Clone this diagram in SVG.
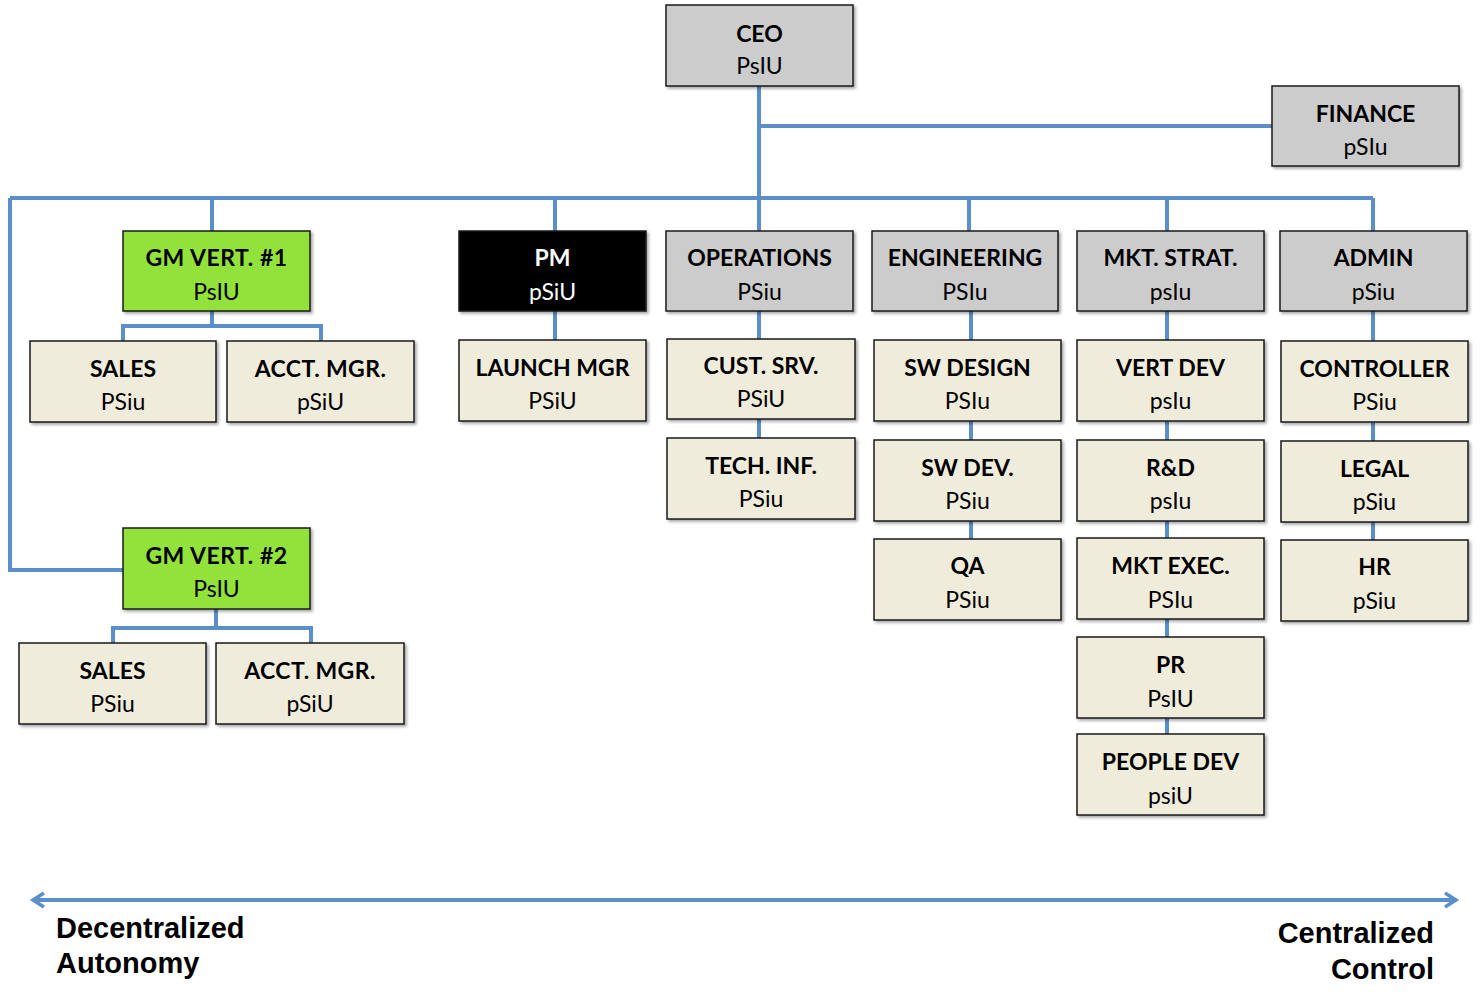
<svg xmlns="http://www.w3.org/2000/svg" width="1484" height="993" viewBox="0 0 1484 993">
<style>
.b{stroke:#1a1a1a;stroke-width:1.5;filter:url(#sh)}
.g{fill:#cccccc}.gr{fill:#92e23a}.k{fill:#000}.y{fill:#f0ecdb}
.t{font-family:Lato,"Open Sans",sans-serif;font-size:23px;font-weight:bold;text-anchor:middle;fill:#000}
.s{font-family:Lato,"Open Sans",sans-serif;font-size:23px;text-anchor:middle;fill:#000}
.w{fill:#fff}
.c{fill:none;stroke:#5b8fc9;stroke-width:4}
.a{font-family:"Liberation Sans",Arial,sans-serif;font-size:29px;font-weight:bold;fill:#000}
</style>
<defs>
<filter id="sh" x="-10%" y="-10%" width="130%" height="130%"><feDropShadow dx="2" dy="2" stdDeviation="1.5" flood-color="#000" flood-opacity="0.35"/></filter>
<marker id="ah" viewBox="0 0 20 20" refX="14" refY="10" markerWidth="20" markerHeight="20" markerUnits="userSpaceOnUse" orient="auto-start-reverse"><path d="M4 3 L15 10 L4 17" fill="none" stroke="#5b8fc9" stroke-width="3.5"/></marker>
</defs>
<rect width="1484" height="993" fill="#fff"/>
<g id="connectors">
<path class="c" d="M759 86V198M759 126H1272M10 198H1373M10 198V570H123"/>
<path class="c" d="M212 198V231M555 198V231M759 198V231M969 198V231M1167 198V231M1373 198V231"/>
<path class="c" d="M212 311V326M123 341V326H321V341"/>
<path class="c" d="M216 609V628M113 643V628H311V643"/>
<path class="c" d="M555 311V340M759 311V339M759 419V438"/>
<path class="c" d="M971 311V340M971 421V440M971 521V539"/>
<path class="c" d="M1167 311V340M1167 421V440M1167 521V538M1167 619V637M1167 718V734"/>
<path class="c" d="M1373 311V341M1373 422V441M1373 522V540"/>
<path class="c" d="M34 900H1455" stroke-width="3.5" marker-start="url(#ah)" marker-end="url(#ah)"/>
</g>
<g id="ceo"><rect class="b g" x="666" y="5" width="187" height="81"/><text class="t" x="759.5" y="42">CEO</text><text class="s" x="759.5" y="74">PsIU</text></g>
<g id="finance"><rect class="b g" x="1272" y="86" width="187" height="80"/><text class="t" x="1365.5" y="122">FINANCE</text><text class="s" x="1365.5" y="155">pSIu</text></g>
<g id="gm1"><rect class="b gr" x="123" y="231" width="187" height="80"/><text class="t" x="216.5" y="266" letter-spacing="0.5">GM VERT. #1</text><text class="s" x="216.5" y="300">PsIU</text></g>
<g id="pm"><rect class="b k" x="459" y="231" width="187" height="80"/><text class="t w" x="552.5" y="266">PM</text><text class="s w" x="552.5" y="300">pSiU</text></g>
<g id="operations"><rect class="b g" x="666" y="231" width="187" height="80"/><text class="t" x="759.5" y="266">OPERATIONS</text><text class="s" x="759.5" y="300">PSiu</text></g>
<g id="engineering"><rect class="b g" x="872" y="231" width="186" height="80"/><text class="t" x="965" y="266">ENGINEERING</text><text class="s" x="965" y="300">PSIu</text></g>
<g id="mktstrat"><rect class="b g" x="1077" y="231" width="187" height="80"/><text class="t" x="1170.5" y="266">MKT. STRAT.</text><text class="s" x="1170.5" y="300">psIu</text></g>
<g id="admin"><rect class="b g" x="1280" y="231" width="187" height="80"/><text class="t" x="1373.5" y="266">ADMIN</text><text class="s" x="1373.5" y="300">pSiu</text></g>
<g id="sales1"><rect class="b y" x="30" y="341" width="186" height="81"/><text class="t" x="123" y="377">SALES</text><text class="s" x="123" y="410">PSiu</text></g>
<g id="acct1"><rect class="b y" x="227" y="341" width="187" height="81"/><text class="t" x="320.5" y="377" letter-spacing="0.4">ACCT. MGR.</text><text class="s" x="320.5" y="410">pSiU</text></g>
<g id="launch"><rect class="b y" x="459" y="340" width="187" height="81"/><text class="t" x="552.5" y="376">LAUNCH MGR</text><text class="s" x="552.5" y="409">PSiU</text></g>
<g id="custsrv"><rect class="b y" x="667" y="339" width="188" height="80"/><text class="t" x="761" y="374">CUST. SRV.</text><text class="s" x="761" y="407">PSiU</text></g>
<g id="techinf"><rect class="b y" x="667" y="438" width="188" height="81"/><text class="t" x="761" y="474">TECH. INF.</text><text class="s" x="761" y="507">PSiu</text></g>
<g id="swdesign"><rect class="b y" x="874" y="340" width="187" height="81"/><text class="t" x="967.5" y="376">SW DESIGN</text><text class="s" x="967.5" y="409">PSIu</text></g>
<g id="swdev"><rect class="b y" x="874" y="440" width="187" height="81"/><text class="t" x="967.5" y="476">SW DEV.</text><text class="s" x="967.5" y="509">PSiu</text></g>
<g id="qa"><rect class="b y" x="874" y="539" width="187" height="81"/><text class="t" x="967.5" y="574">QA</text><text class="s" x="967.5" y="608">PSiu</text></g>
<g id="vertdev"><rect class="b y" x="1077" y="340" width="187" height="81"/><text class="t" x="1170.5" y="376">VERT DEV</text><text class="s" x="1170.5" y="409">psIu</text></g>
<g id="rnd"><rect class="b y" x="1077" y="440" width="187" height="81"/><text class="t" x="1170.5" y="476">R&amp;D</text><text class="s" x="1170.5" y="509">psIu</text></g>
<g id="mktexec"><rect class="b y" x="1077" y="538" width="187" height="81"/><text class="t" x="1170.5" y="574">MKT EXEC.</text><text class="s" x="1170.5" y="608">PSIu</text></g>
<g id="pr"><rect class="b y" x="1077" y="637" width="187" height="81"/><text class="t" x="1170.5" y="673">PR</text><text class="s" x="1170.5" y="707">PsIU</text></g>
<g id="peopledev"><rect class="b y" x="1077" y="734" width="187" height="81"/><text class="t" x="1170.5" y="770">PEOPLE DEV</text><text class="s" x="1170.5" y="804">psiU</text></g>
<g id="controller"><rect class="b y" x="1281" y="341" width="187" height="81"/><text class="t" x="1374.5" y="377">CONTROLLER</text><text class="s" x="1374.5" y="410">PSiu</text></g>
<g id="legal"><rect class="b y" x="1281" y="441" width="187" height="81"/><text class="t" x="1374.5" y="477">LEGAL</text><text class="s" x="1374.5" y="510">pSiu</text></g>
<g id="hr"><rect class="b y" x="1281" y="540" width="187" height="81"/><text class="t" x="1374.5" y="575">HR</text><text class="s" x="1374.5" y="609">pSiu</text></g>
<g id="gm2"><rect class="b gr" x="123" y="528" width="187" height="81"/><text class="t" x="216.5" y="564" letter-spacing="0.5">GM VERT. #2</text><text class="s" x="216.5" y="597">PsIU</text></g>
<g id="sales2"><rect class="b y" x="19" y="643" width="187" height="81"/><text class="t" x="112.5" y="679">SALES</text><text class="s" x="112.5" y="712">PSiu</text></g>
<g id="acct2"><rect class="b y" x="216" y="643" width="188" height="81"/><text class="t" x="310" y="679" letter-spacing="0.4">ACCT. MGR.</text><text class="s" x="310" y="712">pSiU</text></g>
<g id="axis-labels">
<text class="a" x="56" y="938">Decentralized</text>
<text class="a" x="56" y="973">Autonomy</text>
<text class="a" x="1434" y="943" text-anchor="end">Centralized</text>
<text class="a" x="1434" y="979" text-anchor="end">Control</text>
</g>
</svg>
